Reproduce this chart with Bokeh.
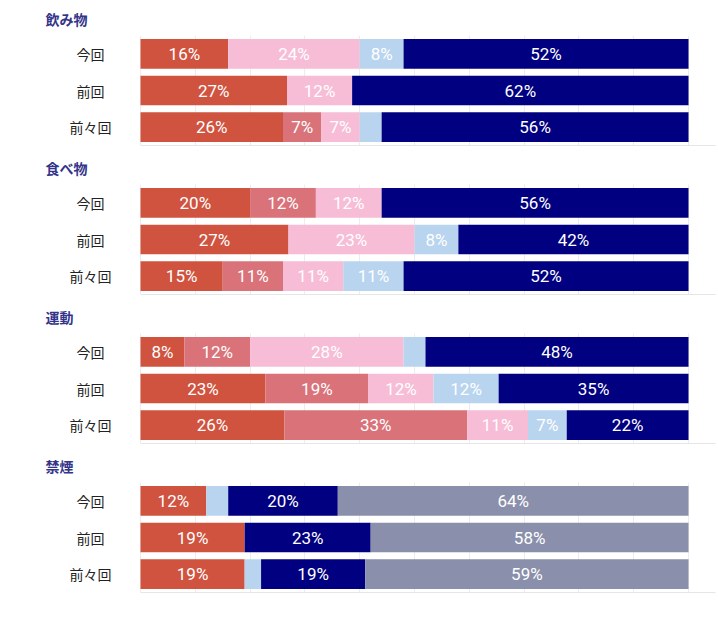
from bokeh.plotting import figure
from bokeh.layouts import column
from bokeh.models import FactorRange, Range1d, FixedTicker, ColumnDataSource
from bokeh.core.properties import value
from bokeh.embed import file_html
from bokeh.resources import INLINE

# ---- data ----
groups = ["飲み物", "食べ物", "運動", "禁煙"]
periods = ["今回", "前回", "前々回"]
series_names = ["回答1", "回答2", "回答3", "回答4", "回答5", "回答6"]
series_colors = ["#d0533f", "#d97279", "#f7bdd6", "#b8d4ee", "#000080", "#8a8fab"]

# each row = one series, values for [今回, 前回, 前々回] (%)
drinks = [[16, 27, 26], [0, 0, 7], [24, 12, 7], [8, 0, 4], [52, 62, 56], [0, 0, 0]]
foods = [[20, 27, 15], [12, 0, 11], [12, 23, 11], [0, 8, 11], [56, 42, 52], [0, 0, 0]]
exercise = [[8, 23, 26], [12, 19, 33], [28, 12, 11], [4, 12, 7], [48, 35, 22], [0, 0, 0]]
smoking = [[12, 19, 19], [0, 0, 0], [0, 0, 0], [4, 0, 3], [20, 23, 19], [64, 58, 59]]
group_data = [drinks, foods, exercise, smoking]

grid_ticks = [0, 10, 20, 30, 40, 50, 60, 70, 80, 90, 100]
label_min = 5

FONT = "Noto Sans CJK JP"
TITLE_FONT = "DejaVu Sans, Noto Sans CJK JP"
NUM_FONT = "Roboto"
FRAME_H = 110


def make_panel(title, data):
    p = figure(
        frame_width=718, frame_height=FRAME_H,
        y_range=FactorRange(factors=periods[::-1], range_padding=0),
        x_range=Range1d(-25.55, 105.47),
        output_backend="svg", toolbar_location=None,
        y_axis_location=None, x_axis_location="below",
        min_border_left=0, min_border_right=0,
        min_border_top=35, min_border_bottom=4,
    )
    p.title.text = title
    p.title.align = "left"
    p.title.offset = 45
    p.title.standoff = 16
    p.title.text_font = TITLE_FONT
    p.title.text_font_size = "14px"
    p.title.text_font_style = "bold"
    p.title.text_color = "#34348a"

    p.outline_line_color = None
    p.ygrid.visible = False
    p.xgrid.ticker = FixedTicker(ticks=grid_ticks)
    p.xgrid.grid_line_color = "#ececec"
    p.xaxis.ticker = FixedTicker(ticks=[])
    p.xaxis.bounds = (0, 105)
    p.xaxis.axis_line_color = "#e6e6e6"
    p.xaxis.major_tick_out = 0
    p.xaxis.major_tick_in = 0
    p.xaxis.minor_tick_out = 0
    p.xaxis.minor_tick_in = 0
    p.xaxis.major_label_text_font_size = "0px"
    p.xaxis.major_label_standoff = 0

    totals = [sum(row[i] for row in data) for i in range(len(periods))]
    cum = [0.0] * len(periods)
    lab_x, lab_y, lab_t = [], [], []
    for s, row in enumerate(data):
        left = []
        right = []
        for i, v in enumerate(row):
            w = v / totals[i] * 100
            left.append(cum[i])
            right.append(cum[i] + w)
            if v >= label_min:
                lab_x.append(cum[i] + w / 2)
                lab_y.append(periods[i])
                lab_t.append(f"{v}%")
            cum[i] += w
        src = ColumnDataSource(dict(y=periods, left=left, right=right))
        p.hbar(y="y", left="left", right="right", height=0.81, source=src,
               fill_color=series_colors[s], line_color=None)

    lsrc = ColumnDataSource(dict(x=lab_x, y=lab_y, t=lab_t))
    p.text(x="x", y="y", text="t", source=lsrc, text_align="center",
           text_baseline="middle", text_color="white",
           text_font=value(NUM_FONT), text_font_size="17px")

    csrc = ColumnDataSource(dict(x=[0] * len(periods), y=periods, t=periods))
    p.text(x="x", y="y", text="t", source=csrc, x_offset=-50,
           text_align="center", text_baseline="middle", text_color="#222222",
           text_font=value(FONT), text_font_size="14px")
    return p


panels = [make_panel(g, d) for g, d in zip(groups, group_data)]
layout = column(*panels, spacing=0)

open("out.html", "w").write(file_html(layout, INLINE))
